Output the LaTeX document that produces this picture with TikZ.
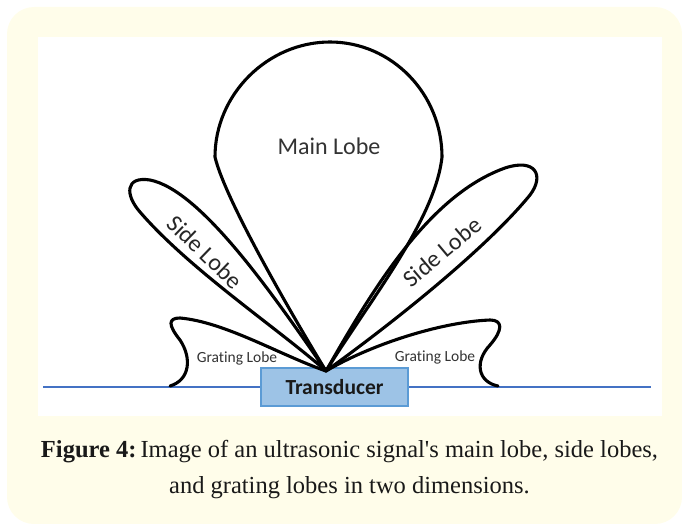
\documentclass[tikz,border=0pt]{standalone}
\usepackage{fontspec}
\setmainfont{Liberation Serif}
\newfontfamily\calib[Ligatures={NoCommon,NoRare,NoDiscretionary}]{Carlito}
\definecolor{cream}{HTML}{FFFDEA}
\definecolor{tfill}{HTML}{9DC3E6}
\definecolor{tdraw}{HTML}{5B9BD5}
\definecolor{baseblue}{HTML}{4472C4}
\definecolor{labgray}{HTML}{333333}
\tikzset{
  lobe/.style={line width=3.1pt, black, line join=round, line cap=round},
  biglabel/.style={font=\calib\fontsize{24}{28}\selectfont, text=labgray, inner sep=0pt},
  smalllabel/.style={font=\calib\fontsize{15.5}{18}\selectfont, text=labgray, inner sep=0pt},
  transbox/.style={fill=tfill, draw=tdraw, line width=1.5pt, minimum width=147pt, minimum height=38pt, inner sep=0pt,
     font=\calib\bfseries\fontsize{21.5}{24}\selectfont, text=black!90},
}
\begin{document}
\begin{tikzpicture}[x=1pt,y=-1pt]
\useasboundingbox (0,0) rectangle (682,524);
% backgrounds
\fill[cream, rounded corners=27pt] (7,7) rectangle (682,524);
\fill[white] (38,37) rectangle (662,416);
% baseline
\coordinate (bl) at (43,387);
\coordinate (br) at (651,387);
\draw[baseblue, line width=1.3pt] (bl) -- (br);
% transducer
\node[transbox] (tr) at (334.5,387) {Transducer};
% origin
\coordinate (O) at (326,371);
% main lobe
\coordinate (ml) at (215,157);
\coordinate (mt) at (330,42);
\coordinate (mr) at (442,157);
\draw[lobe] (O) .. controls (295,320) and (225,200) .. (ml)
  .. controls (215,94) and (268,42) .. (mt)
  .. controls (392,42) and (442,94) .. (mr)
  .. controls (435,220) and (370,300) .. (O);
% left side lobe
\coordinate (lsa) at (150,180);
\coordinate (lsb) at (140,212);
\draw[lobe] (O) .. controls (270,290) and (200,190) .. (lsa)
  .. controls (125,176) and (125,195) .. (lsb)
  .. controls (190,270) and (280,330) .. (O);
% right side lobe
\coordinate (rsa) at (505,168);
\coordinate (rsb) at (530,195);
\draw[lobe] (O) .. controls (375,285) and (430,195) .. (rsa)
  .. controls (535,158) and (545,175) .. (rsb)
  .. controls (485,250) and (390,325) .. (O);
% left grating lobe
\coordinate (lg0) at (170,386);
\coordinate (lg1) at (180,340);
\coordinate (lg2) at (180,318);
\draw[lobe] (lg0) .. controls (190,380) and (192,358) .. (lg1)
  .. controls (168,325) and (168,318) .. (lg2)
  .. controls (225,322) and (280,355) .. (O);
% right grating lobe
\coordinate (rg0) at (498,386);
\coordinate (rg1) at (490,345);
\coordinate (rg2) at (490,320);
\draw[lobe] (rg0) .. controls (478,382) and (474,362) .. (rg1)
  .. controls (503,330) and (503,320) .. (rg2)
  .. controls (440,322) and (370,345) .. (O);
% labels
\node[biglabel] (mainlab) at (329,146) {Main Lobe};
\node[biglabel, rotate=-44, text=black!85] (lslab) at (205,252) {Side Lobe};
\node[biglabel, rotate=40, text=black!85] (rslab) at (442,252) {Side Lobe};
\node[smalllabel] (lglab) at (237,358) {Grating Lobe};
\node[smalllabel] (rglab) at (435,357) {Grating Lobe};
% caption
\node[align=center, inner sep=0pt, font=\fontsize{24.5}{36}\selectfont, text=black!90] (cap) at (349.5,470)
  {\textbf{Figure 4:}\,Image of an ultrasonic signal\textquotesingle s main lobe, side lobes,\\ and grating lobes in two dimensions.};
\end{tikzpicture}
\end{document}
